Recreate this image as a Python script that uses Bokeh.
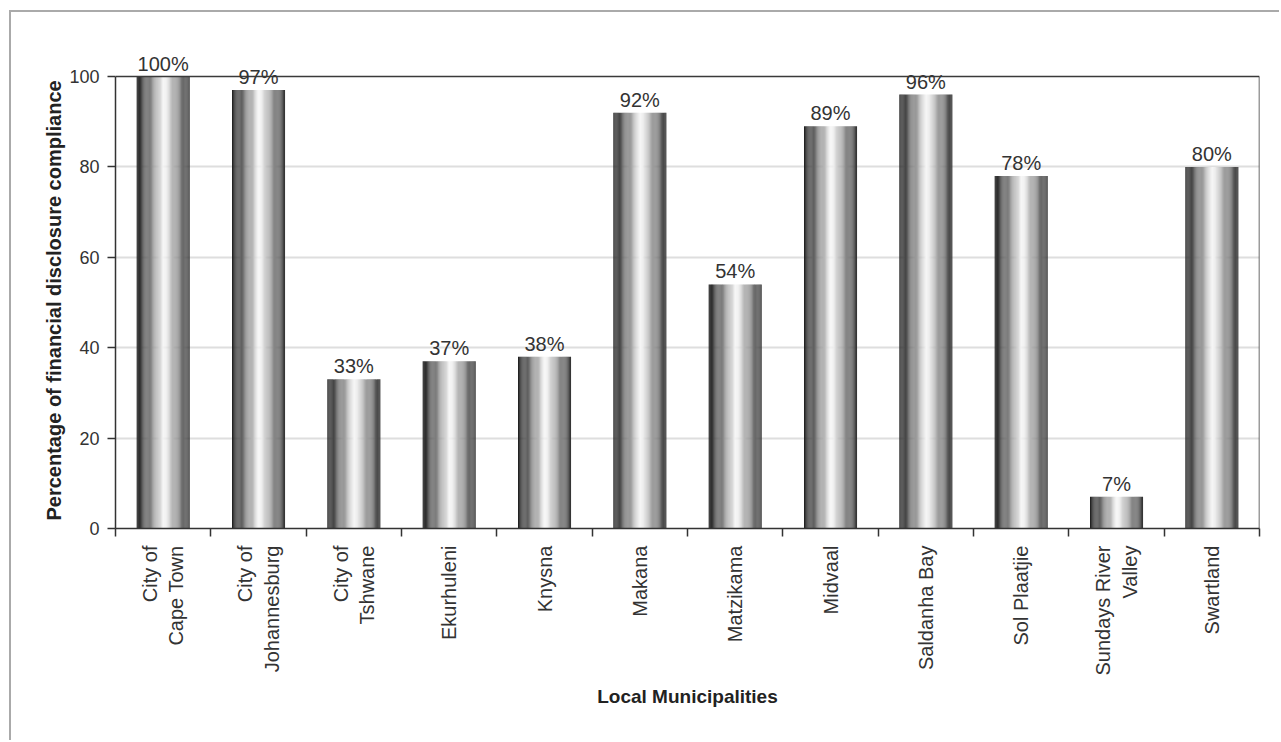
import numpy as np
from bokeh.plotting import figure
from bokeh.models import FixedTicker, LabelSet, ColumnDataSource, Range1d, Title
from bokeh.core.properties import value
from bokeh.embed import file_html
from bokeh.resources import INLINE

# --- data -------------------------------------------------------------
municipalities = ["City of\nCape Town", "City of\nJohannesburg", "City of\nTshwane",
                  "Ekurhuleni", "Knysna", "Makana", "Matzikama", "Midvaal",
                  "Saldanha Bay", "Sol Plaatjie", "Sundays River\nValley", "Swartland"]
compliance = [100, 97, 33, 37, 38, 92, 54, 89, 96, 78, 7, 80]
y_ticks = [0, 20, 40, 60, 80, 100]

FONT = "Liberation Sans"
BAR_WIDTH = 0.556
N_STRIPS = 48
Y_MAX = 100
# headroom above 100 so the value labels of the tallest bars stay visible
Y_TOP = Y_MAX * 488 / 452

# horizontal "cylinder" shading across each bar: (position, grey level)
shade_stops = [(0.0, 0x1e), (0.08, 0x3a), (0.22, 0x70), (0.38, 0xb4),
               (0.50, 0xf6), (0.56, 0xee), (0.66, 0xbc), (0.80, 0x86),
               (0.92, 0x55), (1.0, 0x30)]
pos = [s[0] for s in shade_stops]
lev = [s[1] for s in shade_stops]
strip_colors = []
for k in range(N_STRIPS):
    g = int(round(np.interp((k + 0.5) / N_STRIPS, pos, lev)))
    strip_colors.append("#%02x%02x%02x" % (g, g, g))

centers = [i + 0.5 for i in range(len(compliance))]
n_cat = len(compliance)

lefts, rights, tops, colors = [], [], [], []
for c, v in zip(centers, compliance):
    x0 = c - BAR_WIDTH / 2
    dw = BAR_WIDTH / N_STRIPS
    for k in range(N_STRIPS):
        lefts.append(x0 + k * dw)
        rights.append(x0 + (k + 1) * dw + dw * 0.05)
        tops.append(v)
        colors.append(strip_colors[k])

# --- figure -----------------------------------------------------------
p = figure(width=1270, height=730, x_range=Range1d(0, n_cat), y_range=Range1d(0, Y_TOP),
           output_backend="svg", toolbar_location=None,
           min_border_left=104, min_border_right=22,
           min_border_top=28, min_border_bottom=214)
p.margin = (10, 0, 0, 9)
p.styles = {"border-top": "2px solid #aaaaaa", "border-left": "2px solid #aaaaaa"}
p.background_fill_color = "white"
p.border_fill_color = "white"
p.outline_line_color = None

p.ygrid.ticker = FixedTicker(ticks=[20, 40, 60, 80])
p.ygrid.grid_line_color = "#dedede"
p.ygrid.grid_line_width = 2
p.xgrid.visible = False

p.quad(left=lefts, right=rights, bottom=0, top=tops, fill_color=colors,
       line_color=None)

# plot-area border at the top (100) and on the right
p.segment(x0=[0, n_cat], y0=[Y_MAX, 0], x1=[n_cat, n_cat], y1=[Y_MAX, Y_MAX],
          line_color="#3a3a3a", line_width=1.5)

labels_src = ColumnDataSource(dict(x=centers, y=compliance,
                                   text=["%d%%" % v for v in compliance]))
p.add_layout(LabelSet(x="x", y="y", text="text", source=labels_src,
                      text_align="center", text_baseline="alphabetic",
                      y_offset=6, text_font=value(FONT), text_font_size="20px",
                      text_color="#333333"))

# x axis: labels at bar centres, tick marks at category boundaries
xa = p.xaxis[0]
xa.ticker = FixedTicker(ticks=centers, minor_ticks=list(range(n_cat + 1)))
xa.major_label_overrides = {c: name for c, name in zip(centers, municipalities)}
xa.major_tick_line_color = None
xa.major_tick_out = 0
xa.major_tick_in = 0
xa.minor_tick_out = 8
xa.minor_tick_in = 0
xa.minor_tick_line_color = "#333333"
xa.minor_tick_line_width = 1.5
xa.axis_line_color = "#333333"
xa.axis_line_width = 1.5
xa.major_label_orientation = np.pi / 2
xa.major_label_standoff = 9
xa.major_label_text_font = FONT
xa.major_label_text_font_size = "20px"
xa.major_label_text_color = "#333333"
xa.axis_label = "Local Municipalities"
xa.axis_label_text_font = FONT
xa.axis_label_text_font_style = "bold"
xa.axis_label_text_font_size = "19px"
xa.axis_label_text_color = "#222222"
xa.axis_label_standoff = 7

ya = p.yaxis[0]
ya.bounds = (0, Y_MAX)
ya.ticker = FixedTicker(ticks=y_ticks, minor_ticks=[])
ya.major_tick_out = 8
ya.major_tick_in = 0
ya.major_tick_line_color = "#333333"
ya.major_tick_line_width = 1.5
ya.axis_line_color = "#333333"
ya.axis_line_width = 1.5
ya.major_label_standoff = 8
ya.major_label_text_font = FONT
ya.major_label_text_font_size = "18px"
ya.major_label_text_color = "#333333"

# y-axis title, placed along the 0-100 span (starts just above the x axis)
p.add_layout(Title(text="Percentage of financial disclosure  compliance",
                   align="left", offset=8, standoff=3,
                   text_font=FONT, text_font_style="bold", text_font_size="20px",
                   text_color="#222222"), "left")

open("out.html", "w").write(file_html(p, INLINE))
